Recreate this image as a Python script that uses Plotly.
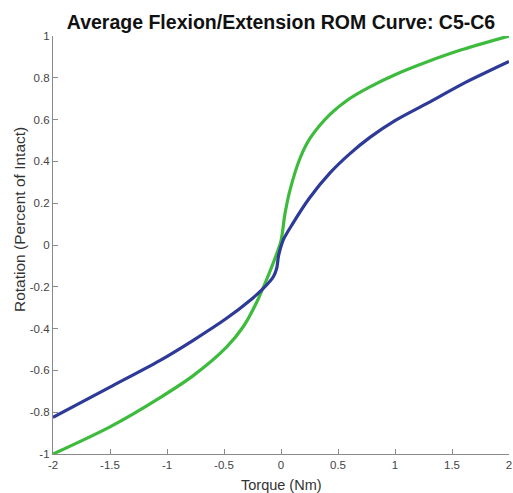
import plotly.graph_objects as go

# Blue curve
blue_x = [-2, -1.5, -1.06, -0.77, -0.48, -0.27, -0.155, -0.067, -0.038, -0.023, -0.009, 0.02, 0.1, 0.25, 0.43, 0.6, 0.78, 1.0, 1.29, 1.59, 2]
blue_y = [-0.825, -0.68, -0.552, -0.456, -0.352, -0.264, -0.208, -0.152, -0.112, -0.056, -0.024, 0.025, 0.1, 0.225, 0.345, 0.435, 0.515, 0.595, 0.68, 0.77, 0.878]

# Green curve
green_x = [-2, -1.5, -1.06, -0.77, -0.48, -0.33, -0.21, -0.126, -0.05, 0.0, 0.035, 0.08, 0.167, 0.254, 0.43, 0.6, 0.78, 1.0, 1.29, 1.59, 2]
green_y = [-1, -0.87, -0.73, -0.625, -0.49, -0.39, -0.27, -0.165, -0.06, 0.02, 0.15, 0.265, 0.415, 0.51, 0.625, 0.70, 0.757, 0.815, 0.878, 0.935, 1.0]

x_ticks = [-2, -1.5, -1, -0.5, 0, 0.5, 1, 1.5, 2]
x_ticklabels = ["-2", "-1.5", "-1", "-0.5", "0", "0.5", "1", "1.5", "2"]
y_ticks = [-1, -0.8, -0.6, -0.4, -0.2, 0, 0.2, 0.4, 0.6, 0.8, 1]
y_ticklabels = ["-1", "-0.8", "-0.6", "-0.4", "-0.2", "0", "0.2", "0.4", "0.6", "0.8", "1"]

FONT = "Liberation Sans, Arial, sans-serif"

fig = go.Figure()
fig.add_trace(go.Scatter(x=green_x, y=green_y, mode="lines",
                         line=dict(color="#3DBB3D", width=3.2, shape="spline", smoothing=0.8),
                         cliponaxis=False, showlegend=False, hoverinfo="skip"))
fig.add_trace(go.Scatter(x=blue_x, y=blue_y, mode="lines",
                         line=dict(color="#2E3A98", width=3.2, shape="spline", smoothing=0.8),
                         cliponaxis=False, showlegend=False, hoverinfo="skip"))

axis_common = dict(showgrid=False, zeroline=False, showline=True, linecolor="#8a8a8a",
                   linewidth=1.2, ticks="inside", ticklen=5, tickcolor="#8a8a8a",
                   tickfont=dict(family=FONT, size=11.5, color="#444"), automargin=False)

fig.update_layout(
    width=513, height=493,
    margin=dict(l=53, r=4, t=36, b=39),
    paper_bgcolor="white", plot_bgcolor="white",
    title=dict(text="<b>Average Flexion/Extension ROM Curve: C5-C6</b>",
               x=0.5, xref="paper", xanchor="center", y=1 - 22 / 493, yref="container", yanchor="middle",
               font=dict(family=FONT, size=19.5, color="#111")),
    xaxis=dict(range=[-2, 2], tickvals=x_ticks, ticktext=x_ticklabels, **axis_common),
    yaxis=dict(range=[-1, 1], tickvals=y_ticks, ticktext=y_ticklabels, **axis_common),
    annotations=[
        dict(text="Torque (Nm)", xref="paper", yref="paper", x=0.5, y=-(485 - 454) / 418,
             xanchor="center", yanchor="middle", showarrow=False,
             font=dict(family=FONT, size=14.5, color="#333")),
        dict(text="Rotation (Percent of Intact)", xref="paper", yref="paper",
             x=-(53 - 20) / 456, y=(454 - 220) / 418, textangle=-90,
             xanchor="center", yanchor="middle", showarrow=False,
             font=dict(family=FONT, size=15.5, color="#333")),
    ],
)

fig.write_html("out.html", config={"displayModeBar": False},
               post_script="document.body.style.margin='0';document.body.style.overflow='hidden';")
